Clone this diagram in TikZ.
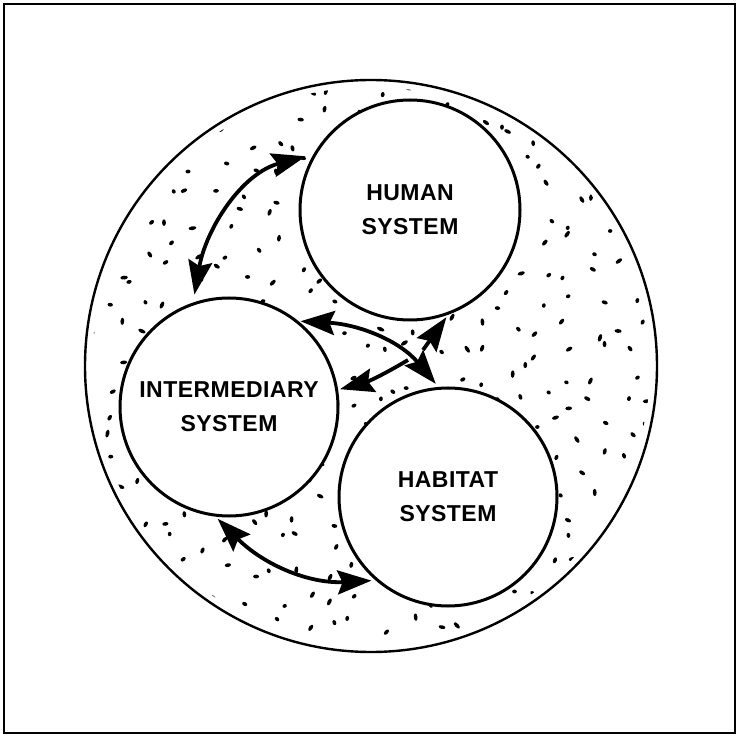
\documentclass[tikz,border=0pt]{standalone}
\usepackage{fontspec}
\setmainfont{Liberation Sans}
\usetikzlibrary{arrows.meta,calc}
\begin{document}
\begin{tikzpicture}[x=1pt,y=1pt,
  sys/.style={circle, draw, line width=3pt, fill=white, inner sep=0pt, align=center,
    font=\fontsize{23}{34}\selectfont\bfseries\addfontfeature{LetterSpace=2}},
  flow/.style={line width=3.8pt, -{Stealth[length=34pt,width=24pt,inset=5pt]}},
  dflow/.style={line width=3.8pt, {Stealth[length=34pt,width=24pt,inset=5pt]}-{Stealth[length=34pt,width=24pt,inset=5pt]}}]
\useasboundingbox (0,0) rectangle (739,737);
\draw[line width=1.6pt] (4,4) rectangle (735,733);
\node[circle, draw, line width=2.4pt, minimum size=572pt, inner sep=0pt] (env) at (371,371) {};
\begin{scope}
  \clip (371,371) circle (279);
  \pgfmathsetseed{2718}
  \foreach \gx in {0,...,21}{
    \foreach \gy in {0,...,21}{
      \pgfmathsetmacro\px{86+27*\gx+24*(rnd-0.5)}
      \pgfmathsetmacro\py{86+27*\gy+24*(rnd-0.5)}
      \pgfmathsetmacro\rot{180*rnd}
      \pgfmathsetmacro\len{2.2+1.8*rnd}
      \fill[rotate around={\rot:(\px,\py)}] (\px,\py) ellipse (\len pt and 1.9pt);
    }
  }
\end{scope}
\node[sys, minimum size=220pt] (human) at (410,527) {HUMAN\\SYSTEM};
\node[sys, minimum size=218pt] (inter) at (229,330) {INTERMEDIARY\\SYSTEM};
\node[sys, minimum size=218pt] (habitat) at (448,240) {HABITAT\\SYSTEM};
\coordinate (t1) at (423,387);
\coordinate (t2) at (408,377);
\draw[dflow, shorten <=8pt, shorten >=8pt] (inter.109) to[out=80, in=195] (human.150);
\draw[dflow, shorten <=2pt, shorten >=4pt] (inter.51) to[out=-3, in=130] (habitat.95);
\draw[flow, shorten >=3pt] (t1) -- (human.290);
\draw[flow, shorten >=2pt] (t2) to[bend left=8] (inter.9);
\draw[dflow, shorten <=3pt, shorten >=4pt] (inter.263) to[out=-45, in=183] (habitat.229);
\end{tikzpicture}
\end{document}
